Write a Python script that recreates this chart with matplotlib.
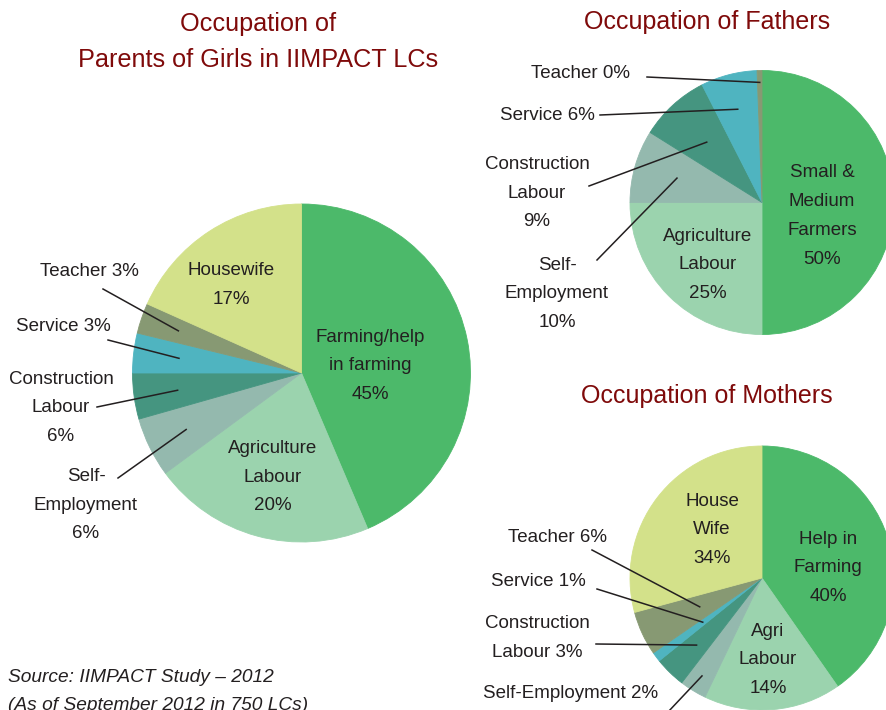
import numpy as np
import matplotlib.pyplot as plt

plt.rcParams['font.family'] = ['Liberation Sans', 'DejaVu Sans']

W, H = 887, 710

# colours shared by the three pies
c_farm = '#4cb96a'
c_agri = '#9bd3ae'
c_self = '#94b9ae'
c_cons = '#459580'
c_serv = '#4fb4c0'
c_teach = '#879973'
c_house = '#d3e18a'

# slice sizes as drawn in the picture (the printed labels are kept as text)
girls_labels = ['Farming/help\nin farming\n45%', 'Agriculture\nLabour\n20%',
                'Self-\nEmployment\n6%', 'Construction\nLabour\n6%',
                'Service 3%', 'Teacher 3%', 'Housewife\n17%']
girls_values = [43.6, 21.3, 5.7, 4.4, 3.8, 2.9, 18.3]
girls_colors = [c_farm, c_agri, c_self, c_cons, c_serv, c_teach, c_house]

fathers_labels = ['Small &\nMedium\nFarmers\n50%', 'Agriculture\nLabour\n25%',
                  'Self-\nEmployment\n10%', 'Construction\nLabour\n9%',
                  'Service 6%', 'Teacher 0%']
fathers_values = [50, 25, 8.9, 8.6, 6.9, 0.6]
fathers_colors = [c_farm, c_agri, c_self, c_cons, c_serv, c_teach]

mothers_labels = ['Help in\nFarming\n40%', 'Agri\nLabour\n14%', 'Self-Employment 2%',
                  'Construction\nLabour 3%', 'Service 1%', 'Teacher 6%',
                  'House\nWife\n34%']
mothers_values = [40.3, 16.8, 3.3, 3.8, 1.2, 5.4, 29.2]
mothers_colors = [c_farm, c_agri, c_self, c_cons, c_serv, c_teach, c_house]

TXT = '#231f20'
TITLE = '#7f0a0a'
FS = 13.5
LS = 1.9

fig = plt.figure(figsize=(W / 100, H / 100), dpi=100)
ax = fig.add_axes([0, 0, 1, 1])


def draw_pie(values, colors, cx, cy, r):
    wedges, _ = ax.pie(values, colors=colors, startangle=90, counterclock=False,
                       center=(cx, H - cy), radius=r, wedgeprops=dict(linewidth=0.6))
    for w in wedges:
        w.set_edgecolor(w.get_facecolor())
    return wedges


def inside(text, x, y):
    ax.text(x, H - y, text, ha='center', va='center', fontsize=FS,
            color=TXT, linespacing=LS)


def callout(wedge, text, tx, ty, lx, ly, rf):
    ang = np.deg2rad((wedge.theta1 + wedge.theta2) / 2)
    cx, cy = wedge.center
    ax.plot([lx, cx + rf * wedge.r * np.cos(ang)],
            [H - ly, cy + rf * wedge.r * np.sin(ang)], color=TXT, lw=1.1)
    ax.text(tx, H - ty, text, ha='center', va='center', fontsize=FS,
            color=TXT, linespacing=LS)


# girls' parents
wg = draw_pie(girls_values, girls_colors, 301.5, 373, 169)
inside(girls_labels[0], 370, 366)
inside(girls_labels[1], 273, 477)
inside(girls_labels[6], 231, 285)
callout(wg[5], girls_labels[5], 89, 272, 103, 289, 0.77)
callout(wg[4], girls_labels[4], 63, 327, 108, 340, 0.73)
callout(wg[3], girls_labels[3], 61, 408, 97, 407, 0.74)
callout(wg[2], girls_labels[2], 86, 505, 118, 478, 0.76)

# fathers
wf = draw_pie(fathers_values, fathers_colors, 762, 202.5, 132)
inside(fathers_labels[0], 822, 216)
inside(fathers_labels[1], 708, 265)
callout(wf[5], fathers_labels[5], 581, 74, 647, 77, 0.91)
callout(wf[4], fathers_labels[4], 547, 116, 600, 115, 0.73)
callout(wf[3], fathers_labels[3], 537, 193, 589, 186, 0.62)
callout(wf[2], fathers_labels[2], 557, 294, 597, 260, 0.67)

# mothers
wm = draw_pie(mothers_values, mothers_colors, 762, 578, 132)
inside(mothers_labels[0], 828, 568)
inside(mothers_labels[1], 768, 660)
inside(mothers_labels[6], 712, 530)
callout(wm[5], mothers_labels[5], 558, 537, 592, 550, 0.52)
callout(wm[4], mothers_labels[4], 538, 582, 597, 589, 0.56)
callout(wm[3], mothers_labels[3], 537, 638, 596, 644, 0.71)
callout(wm[2], mothers_labels[2], 571, 694, 668, 712, 0.87)

# titles
ax.text(258, H - 42, 'Occupation of\nParents of Girls in IIMPACT LCs', ha='center',
        va='center', fontsize=18.2, color=TITLE, linespacing=1.65)
ax.text(707, H - 22, 'Occupation of Fathers', ha='center', va='center',
        fontsize=18, color=TITLE)
ax.text(707, H - 396, 'Occupation of Mothers', ha='center', va='center',
        fontsize=18, color=TITLE)

ax.text(8, H - 678, 'Source: IIMPACT Study \u2013 2012', ha='left', va='center',
        fontsize=13.8, style='italic', color=TXT)
ax.text(8, H - 705, '(As of September 2012 in 750 LCs)', ha='left', va='center',
        fontsize=13.8, style='italic', color=TXT)

ax.set_xlim(0, W)
ax.set_ylim(0, H)
ax.axis('off')

fig.savefig('out.png', dpi=100)
